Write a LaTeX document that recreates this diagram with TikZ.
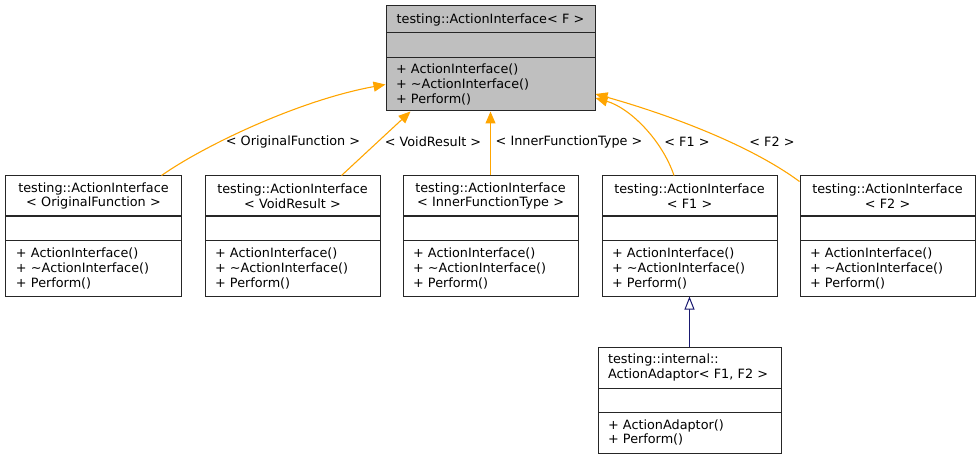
\documentclass[tikz,border=0pt]{standalone}
\usepackage{fontspec}
\setmainfont{DejaVu Sans}
\usepackage{xcolor}
\usepackage{tikz}
\usetikzlibrary{matrix, positioning, arrows.meta}

\definecolor{tmplorange}{RGB}{255,165,0}
\definecolor{derivblue}{RGB}{25,25,112}
\definecolor{basegray}{RGB}{191,191,191}

\begin{document}
\begin{tikzpicture}[x=1pt, y=-1pt, font=\fontsize{12.8}{14.6}\selectfont]

	\tikzset{class box/.style={
			matrix of nodes, nodes in empty cells,
			inner sep=0pt, anchor=north west,
			line width=1pt,
			row sep=-\pgflinewidth,
			nodes={draw=black!85,
				line width=1pt,
				text width=155pt,
				anchor=center,
				inner xsep=10pt, inner ysep=0pt
			},
			row 1/.style={nodes={align=center, minimum height=40pt}},
			row 2/.style={nodes={minimum height=25pt}},
			row 3/.style={nodes={align=left, minimum height=55pt}},
		},
		tmpl edge/.style={draw=tmplorange, line width=1.1pt,
			-{Triangle[length=12pt, width=10pt]}},
		deriv edge/.style={draw=derivblue, line width=1pt,
			-{Triangle[open, length=13pt, width=10pt, fill=white]}},
		edge label/.style={inner sep=0pt}
	}

	\useasboundingbox (0,0) rectangle (980,457);

	\matrix[class box, nodes={fill=basegray, text width=189pt},
		row 1/.append style={nodes={minimum height=27pt}},
		row 3/.append style={nodes={minimum height=53pt}}] (base) at (385,5)
	{
		testing::ActionInterface< F > \\
		\\
		{+ ActionInterface()\\+ \textasciitilde ActionInterface()\\+ Perform()} \\
	};

	\matrix[class box] (orig) at (5,175)
	{
		{testing::ActionInterface\\< OriginalFunction >} \\
		\\
		{+ ActionInterface()\\+ \textasciitilde ActionInterface()\\+ Perform()} \\
	};
	\matrix[class box] (void) at (204,175)
	{
		{testing::ActionInterface\\< VoidResult >} \\
		\\
		{+ ActionInterface()\\+ \textasciitilde ActionInterface()\\+ Perform()} \\
	};
	\matrix[class box] (inner) at (402,175)
	{
		{testing::ActionInterface\\< InnerFunctionType >} \\
		\\
		{+ ActionInterface()\\+ \textasciitilde ActionInterface()\\+ Perform()} \\
	};
	\matrix[class box] (fone) at (601,175)
	{
		{testing::ActionInterface\\< F1 >} \\
		\\
		{+ ActionInterface()\\+ \textasciitilde ActionInterface()\\+ Perform()} \\
	};
	\matrix[class box] (ftwo) at (799,175)
	{
		{testing::ActionInterface\\< F2 >} \\
		\\
		{+ ActionInterface()\\+ \textasciitilde ActionInterface()\\+ Perform()} \\
	};

	\matrix[class box, nodes={text width=163pt},
		row 1/.append style={nodes={align=left, minimum height=41pt}},
		row 2/.append style={nodes={minimum height=24pt}},
		row 3/.append style={nodes={minimum height=41pt}}] (adaptor) at (597,346)
	{
		{testing::internal::\\ActionAdaptor< F1, F2 >} \\
		\\
		{+ ActionAdaptor()\\+ Perform()} \\
	};

	\draw[tmpl edge] ([xshift=-20pt]orig-1-1.north east) .. controls (205,145) and (300,100) .. (base-3-1.west);
	\draw[tmpl edge] ([xshift=-39pt]void-1-1.north east) -- ([xshift=25pt]base-3-1.south west);
	\draw[tmpl edge] (inner-1-1.north) -- (base-3-1.south);
	\draw[tmpl edge] ([xshift=-15.5pt]fone-1-1.north) .. controls (662,140) and (630,108) .. ([yshift=-13.5pt]base-3-1.east);
	\draw[tmpl edge] ([yshift=-6pt]ftwo-1-1.north west) .. controls (750,145) and (670,115) .. ([yshift=-9.5pt]base-3-1.east);
	\draw[deriv edge] (adaptor-1-1.north) -- (fone-3-1.south);

	\node[edge label] (lorig) at (293,142) {< OriginalFunction >};
	\node[edge label] (lvoid) at (433,142) {< VoidResult >};
	\node[edge label] (linner) at (569,142) {< InnerFunctionType >};
	\node[edge label] (lfone) at (687,142) {< F1 >};
	\node[edge label] (lftwo) at (772,142) {< F2 >};

\end{tikzpicture}
\end{document}
